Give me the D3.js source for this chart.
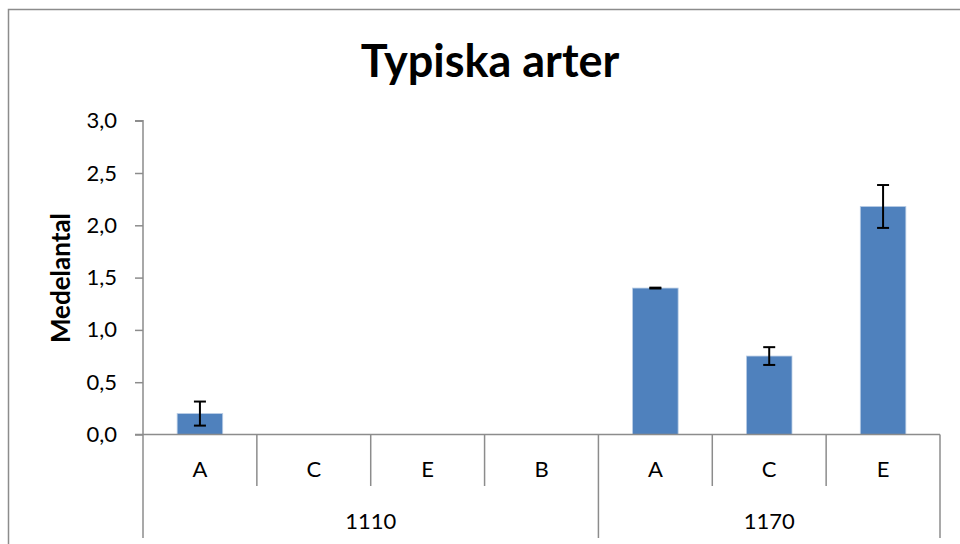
<!DOCTYPE html>
<html>
<head>
<meta charset="utf-8">
<script src="https://cdn.jsdelivr.net/npm/d3@7"></script>
<style>
  body { margin: 0; background: #fff; }
  svg { display: block; font-family: Lato, "Open Sans", sans-serif; }
</style>
</head>
<body>
<div class="graph"></div>
<script>
var NS = {};
NS.width = 960;
NS.height = 544;

// data
var groups = ["1110", "1170"];
var categories = ["A", "C", "E", "B", "A", "C", "E"];
var categoryGroup = ["1110", "1110", "1110", "1110", "1170", "1170", "1170"];
var values = [0.2, 0, 0, 0, 1.4, 0.75, 2.18];
var errors = [0.115, 0, 0, 0, 0.004, 0.085, 0.205];
var yTicks = [0, 0.5, 1, 1.5, 2, 2.5, 3];

NS.margin = {left: 143, right: 940, top: 120.7, bottom: 434.5};
NS.font = "Lato, sans-serif";
NS.labelSize = 22;

function main() {
  var svg = d3.select(".graph").append("svg")
      .attr("width", NS.width)
      .attr("height", NS.height);

  var axisColor = "#8c8c8c";

  // outer chart border (right and bottom sides fall outside the picture)
  svg.append("path")
      .attr("d", "M8.5,544V9.5H960")
      .attr("fill", "none")
      .attr("stroke", axisColor)
      .attr("stroke-width", 1.5);

  // title
  svg.append("text")
      .attr("x", 490)
      .attr("y", 77)
      .attr("text-anchor", "middle")
      .attr("font-family", NS.font)
      .attr("font-size", 45)
      .attr("font-weight", "bold")
      .text("Typiska arter");

  var idx = d3.range(categories.length);
  var x = d3.scaleBand()
      .domain(idx)
      .range([NS.margin.left, NS.margin.right])
      .paddingInner(0.6)
      .paddingOuter(0.3);
  // band for the category cells (no padding)
  var cell = d3.scaleBand()
      .domain(idx)
      .range([NS.margin.left, NS.margin.right]);

  var y = d3.scaleLinear()
      .domain([0, 3])
      .range([NS.margin.bottom, NS.margin.top]);

  // y axis
  var yAxis = svg.append("g")
      .attr("transform", "translate(" + NS.margin.left + ",0)")
      .call(d3.axisLeft(y)
        .tickValues(yTicks)
        .tickSize(8)
        .tickPadding(18)
        .tickFormat(function(d) { return d3.format(".1f")(d).replace(".", ","); }));
  yAxis.attr("font-family", NS.font).attr("font-size", NS.labelSize);
  yAxis.select(".domain").attr("stroke", axisColor).attr("stroke-width", 1.5)
      .attr("d", "M-8," + y(3) + "H0V" + y(0));
  yAxis.selectAll(".tick line").attr("stroke", axisColor).attr("stroke-width", 1.5);
  yAxis.selectAll(".tick text").attr("fill", "#000");

  // y axis title
  svg.append("text")
      .attr("transform", "translate(70,278) rotate(-90)")
      .attr("text-anchor", "middle")
      .attr("font-family", NS.font)
      .attr("font-size", 26)
      .attr("font-weight", "bold")
      .text("Medelantal");

  // bars
  svg.append("g").selectAll("rect")
      .data(idx)
      .enter().append("rect")
      .attr("x", function(i) { return x(i); })
      .attr("width", x.bandwidth())
      .attr("y", function(i) { return y(values[i]); })
      .attr("height", function(i) { return y(0) - y(values[i]); })
      .attr("fill", "#4f81bd")
      .attr("stroke", "#b9cde5")
      .attr("stroke-width", 0.8);

  // error bars
  var eb = svg.append("g").selectAll("g")
      .data(idx.filter(function(i) { return values[i] > 0; }))
      .enter().append("g")
      .attr("stroke", "#000")
      .attr("stroke-width", 2);
  eb.append("line")
      .attr("x1", function(i) { return x(i) + x.bandwidth() / 2; })
      .attr("x2", function(i) { return x(i) + x.bandwidth() / 2; })
      .attr("y1", function(i) { return y(values[i] + errors[i]); })
      .attr("y2", function(i) { return y(values[i] - errors[i]); });
  eb.selectAll(".cap")
      .data(function(i) { return [[i, 1], [i, -1]]; })
      .enter().append("line")
      .attr("x1", function(d) { return x(d[0]) + x.bandwidth() / 2 - 6; })
      .attr("x2", function(d) { return x(d[0]) + x.bandwidth() / 2 + 6; })
      .attr("y1", function(d) { return y(values[d[0]] + d[1] * errors[d[0]]); })
      .attr("y2", function(d) { return y(values[d[0]] + d[1] * errors[d[0]]); });

  // category axis (two levels)
  var level1 = 486, level2 = 538;
  var cat = svg.append("g")
      .attr("stroke", axisColor)
      .attr("stroke-width", 1.5);
  cat.append("line")
      .attr("x1", NS.margin.left - 8).attr("x2", NS.margin.right)
      .attr("y1", y(0)).attr("y2", y(0));

  // dividers between categories, longer where the group changes
  var edges = idx.map(function(i) { return cell(i); }).concat([NS.margin.right]);
  cat.selectAll(".div")
      .data(edges)
      .enter().append("line")
      .attr("x1", function(d) { return d; })
      .attr("x2", function(d) { return d; })
      .attr("y1", y(0))
      .attr("y2", function(d, i) {
        var g = i < categories.length ? categoryGroup[i] : null;
        var prev = i > 0 ? categoryGroup[i - 1] : null;
        return (g !== prev) ? level2 : level1;
      });

  svg.append("g")
      .attr("font-family", NS.font)
      .attr("font-size", NS.labelSize)
    .selectAll("text")
      .data(idx)
      .enter().append("text")
      .attr("x", function(i) { return cell(i) + cell.bandwidth() / 2; })
      .attr("y", 477)
      .attr("text-anchor", "middle")
      .text(function(i) { return categories[i]; });

  svg.append("g")
      .attr("font-family", NS.font)
      .attr("font-size", NS.labelSize)
    .selectAll("text")
      .data(groups)
      .enter().append("text")
      .attr("x", function(g) {
        var members = idx.filter(function(i) { return categoryGroup[i] === g; });
        var x0 = cell(members[0]);
        var x1 = cell(members[members.length - 1]) + cell.bandwidth();
        return (x0 + x1) / 2;
      })
      .attr("y", 529)
      .attr("text-anchor", "middle")
      .text(function(g) { return g; });
}

main();
</script>
</body>
</html>
